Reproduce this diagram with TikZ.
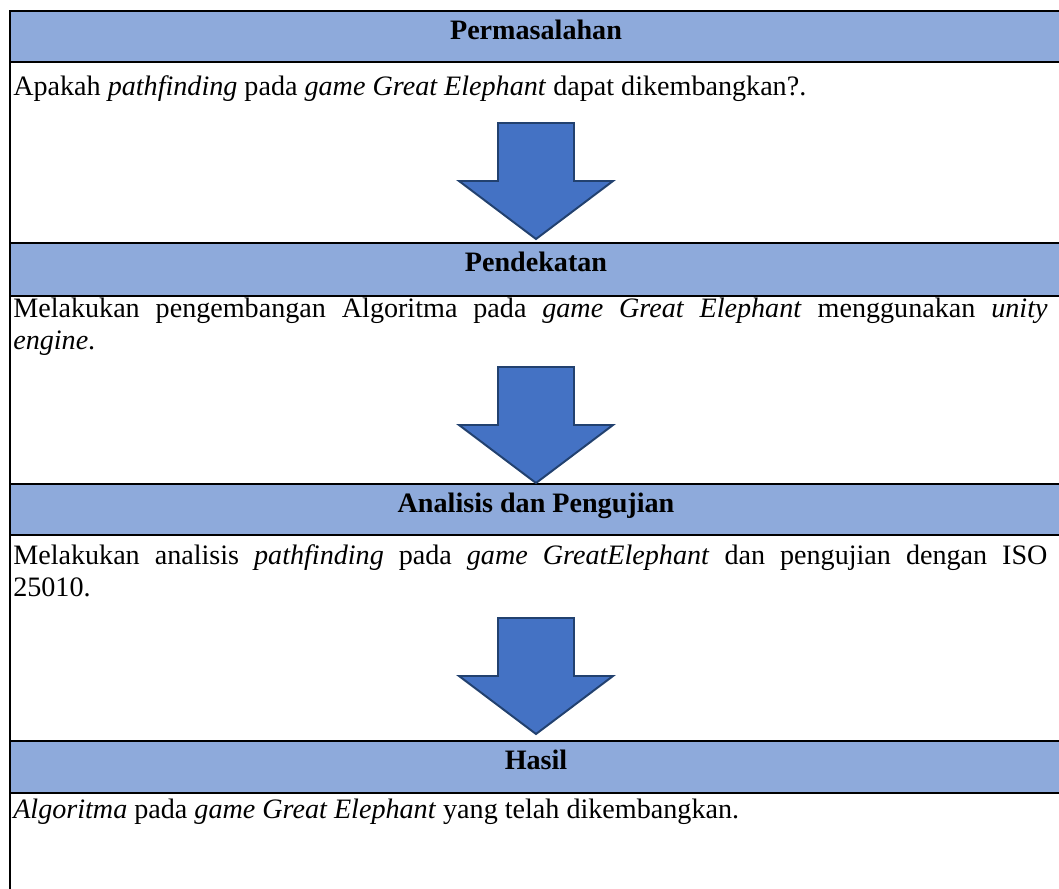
\documentclass[tikz,border=0pt]{standalone}
\usepackage{fontspec}
\setmainfont{Liberation Serif}
\usepackage{tikz}

\definecolor{headblue}{HTML}{8EAADB}
\definecolor{arrowblue}{HTML}{4472C4}
\definecolor{arrowedge}{HTML}{22416F}

\hyphenpenalty=10000
\exhyphenpenalty=10000
\newcommand\wordspace{\spaceskip=0.25em plus 0.6em\relax}

\begin{document}
\begin{tikzpicture}[x=0.025cm,y=-0.025cm,
    rule/.style={line width=1.8pt},
    head/.style={anchor=base,inner sep=0pt,font=\fontsize{20}{23}\selectfont\bfseries},
    body/.style={anchor=base west,inner sep=0pt,text width=25.85cm,align=justify,
      font=\fontsize{20}{22.8}\selectfont\wordspace},
    bigarrow/.style={fill=arrowblue,draw=arrowedge,line width=1.4pt,line join=miter}]
  \useasboundingbox (0,0) rectangle (1059,888);
  \clip (0,0) rectangle (1059,888);

  % header bars
  \foreach \top/\bot/\base/\lbl [count=\i] in {11/62/39/Permasalahan,
      243/296/271/Pendekatan, 484/535/512/Analisis dan Pengujian, 741/793/769/Hasil} {
    \fill[headblue] (10,\top) rectangle (1070,\bot);
    \draw[rule] (9,\top) -- (1070,\top);
    \draw[rule] (9,\bot) -- (1070,\bot);
    \node[head] (h\i) at (536,\base) {\lbl};
  }
  \draw[rule] (10,10) -- (10,890);

  % cell texts
  \node[body] (b1) at (13,95) {Apakah \textit{pathfinding} pada \textit{game Great Elephant} dapat dikembangkan?.};
  \node[body] (b2) at (13,317) {Melakukan pengembangan Algoritma pada \textit{game Great Elephant} menggunakan \textit{unity engine}.};
  \node[body] (b3) at (13,564) {Melakukan analisis \textit{pathfinding} pada \textit{game GreatElephant} dan pengujian dengan ISO 25010.};
  \node[body] (b4) at (13,818) {\textit{Algoritma} pada \textit{game Great Elephant} yang telah dikembangkan.};

  % block arrows
  \foreach \t in {123,367,618} {
    \draw[bigarrow] (498,\t) -- (574,\t) -- (574,\t+58) -- (613,\t+58)
      -- (536,\t+116) -- (459,\t+58) -- (498,\t+58) -- cycle;
  }
\end{tikzpicture}
\end{document}
